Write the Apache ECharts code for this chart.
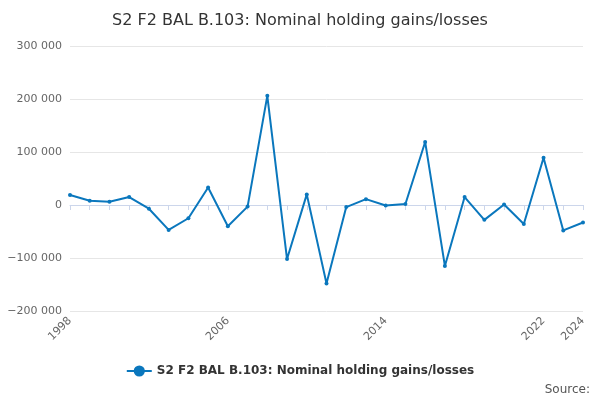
<!DOCTYPE html>
<html>
<head>
<meta charset="utf-8">
<script src="https://cdn.jsdelivr.net/npm/echarts@6/dist/echarts.min.js"></script>
<style>html,body{margin:0;padding:0;background:#fff}#c{width:600px;height:400px}</style>
</head>
<body>
<div id="c"></div>
<script>
const years = ["1998","1999","2000","2001","2002","2003","2004","2005","2006","2007","2008","2009","2010","2011","2012","2013","2014","2015","2016","2017","2018","2019","2020","2021","2022","2023","2024"];
const values = [19000,8000,6000,15000,-7000,-47000,-25000,33000,-40000,-3000,206000,-102000,20000,-148000,-4000,11000,-1000,2000,119000,-115000,15000,-28000,1000,-36000,89000,-48000,-33000];
const shownLabels = ["1998","2006","2014","2022","2024"];
const seriesName = "S2 F2 BAL B.103: Nominal holding gains/losses";

const chart = echarts.init(document.getElementById("c"));
chart.setOption({
    animation: false,
    title: {
        text: seriesName, left: "center", top: 8,
        textStyle: { fontFamily: "DejaVu Sans", fontSize: 16, fontWeight: "normal", color: "#333" }
    },
    grid: { left: 70, right: 17, top: 46, bottom: 89 },
    legend: {
        data: [seriesName], bottom: 18, left: "center",
        textStyle: { fontFamily: "DejaVu Sans", fontSize: 12, fontWeight: "bold", color: "#333" }
    },
    graphic: [{ type: "text", right: 10, bottom: 4,
        style: { text: "Source:", font: "12px DejaVu Sans", fill: "#555" } }],
    xAxis: {
        type: "category", data: years, boundaryGap: false,
        axisLine: { lineStyle: { color: "#ccd6eb" } },
        axisTick: { interval: 0, lineStyle: { color: "#ccd6eb" } },
        axisLabel: {
            interval: (i, v) => shownLabels.includes(v), rotate: 45,
            fontFamily: "DejaVu Sans", fontSize: 11, color: "#666"
        }
    },
    yAxis: {
        type: "value", min: -200000, max: 300000, interval: 100000,
        splitLine: { lineStyle: { color: "#e6e6e6" } },
        axisLabel: {
            fontFamily: "DejaVu Sans", fontSize: 11, color: "#666",
            formatter: v => v.toLocaleString("en-US").replace(/,/g, " ").replace("-", "−")
        }
    },
    series: [{
        name: seriesName, type: "line", data: values,
        symbol: "circle", symbolSize: 4,
        itemStyle: { color: "#0a77bd" }, lineStyle: { width: 2, color: "#0a77bd" }
    }]
});
</script>
</body>
</html>
